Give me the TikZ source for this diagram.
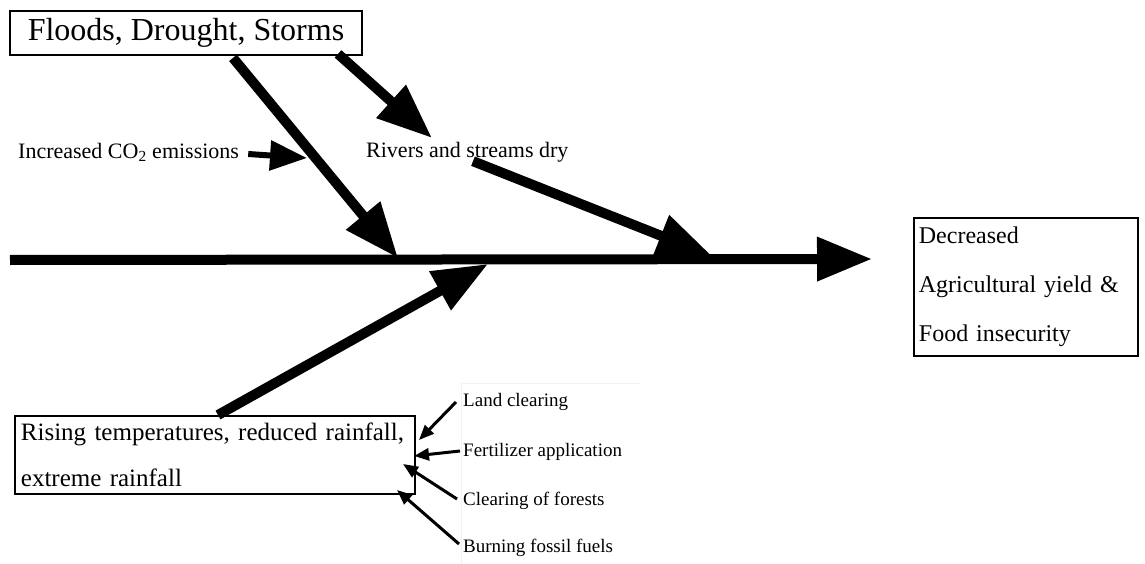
\documentclass[tikz,border=0pt]{standalone}
\usepackage{fontspec}
\setmainfont{Liberation Serif}
\usetikzlibrary{arrows.meta, positioning}

\tikzset{
  bigarrow/.style={line width=10pt, -{Triangle[length=55pt,width=42pt]}},
  midarrow/.style={line width=6pt, -{Triangle[length=37pt,width=29pt]}},
  smallarrow/.style={line width=3pt, -{Triangle[length=15pt,width=12pt]}},
  boxed/.style={draw, line width=1.8pt},
  plainlabel/.style={anchor=west, inner sep=1pt, font=\fontsize{22}{26}\selectfont},
  smalllabel/.style={anchor=west, inner sep=1pt, font=\fontsize{19}{22}\selectfont},
}

\begin{document}
\begin{tikzpicture}[x=1pt, y=-1pt]
    \useasboundingbox (0,0) rectangle (1145,564);

    % boxes and labels
    \node[boxed, minimum width=352pt, minimum height=44pt, inner sep=0pt,
          font=\fontsize{32}{36}\selectfont] (floods) at (186,33) {Floods, Drought, Storms};
    \node[plainlabel] (co2) at (17,152) {Increased CO\textsubscript{2} emissions};
    \node[plainlabel] (rivers) at (365,152) {Rivers and streams dry};
    \node[boxed, anchor=north west, text width=214pt, align=left, inner xsep=5pt, inner ysep=9pt,
          font=\fontsize{24}{49}\selectfont] (yield) at (913,217)
          {Decreased\\Agricultural yield \&\\Food insecurity};
    \node[boxed, anchor=north west, text width=388pt, align=left, inner xsep=6pt, inner ysep=7pt,
          font=\fontsize{25}{46}\selectfont] (rising) at (14,415)
          {Rising temperatures, reduced rainfall,\\extreme rainfall};

    % causes of the climate change
    \draw[gray!10, line width=0.6pt] (461,564) -- (461,383) -- (640,383);
    \node[smalllabel] (land) at (462,402) {Land clearing};
    \node[smalllabel] (fert) at (462,452) {Fertilizer application};
    \node[smalllabel] (forests) at (462,501) {Clearing of forests};
    \node[smalllabel] (fossil) at (462,548) {Burning fossil fuels};

    % points on the spine and on the branches
    \coordinate (tail) at (10,260);
    \coordinate (head) at (872,259);
    \coordinate (j1) at (398,258);
    \coordinate (j2) at (712,256);
    \coordinate (j3) at (488,264);
    \coordinate (b1) at (307,158);

    % spine and branches
    \draw[bigarrow] (tail) -- (head);
    \draw[bigarrow] (floods.south -| 233,0) ++(0,2) -- (j1);
    \draw[bigarrow] (floods.south -| 338,0) ++(0,-2) -- (432,138);
    \draw[bigarrow] (rivers.south -| 473,0) ++(0,-2) -- (j2);
    \draw[bigarrow] (rising.north -| 218,0) -- (j3);
    \draw[midarrow] (co2.east) ++(8,2) -- (b1);

    % small arrows into the box
    \draw[smallarrow] (land.west) ++(-6,0) -- (419,440);
    \draw[smallarrow] (fert.west) ++(-2,-1) -- (414,456);
    \draw[smallarrow] (forests.west) ++(-5,-2) -- (403,464);
    \draw[smallarrow] (fossil.west) ++(-3,-4) -- (397,490);
\end{tikzpicture}
\end{document}
